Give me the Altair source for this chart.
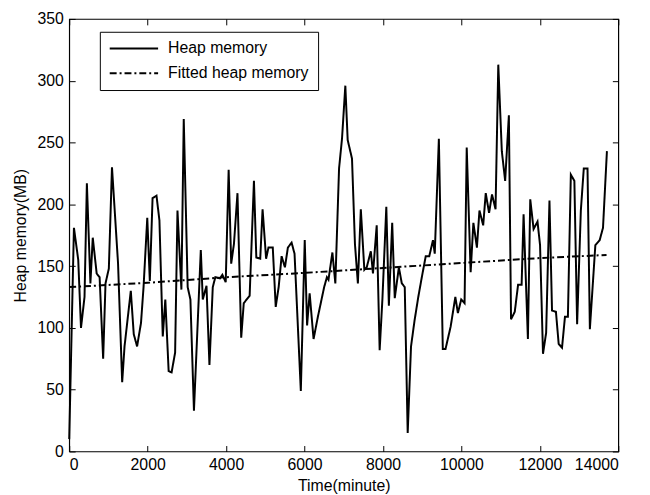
import altair as alt
import pandas as pd

# Heap memory series (time in minutes, memory in MB)
heap_time = [0, 120, 230, 300, 390, 450, 540, 600, 700, 775, 865, 925, 1010, 1090, 1245, 1350, 1410,
             1570, 1645, 1730, 1830, 1895, 1990, 2055, 2125, 2225, 2300, 2385, 2450, 2535, 2610, 2700,
             2760, 2860, 2920, 3020, 3090, 3180, 3355, 3405, 3500, 3575, 3660, 3725, 3845, 3905, 3990,
             4065, 4130, 4200, 4290, 4385, 4450, 4600, 4710, 4770, 4870, 4930, 5020, 5080, 5190, 5265,
             5340, 5415, 5500, 5575, 5670, 5745, 5905, 6005, 6065, 6130, 6230, 6340, 6500, 6570, 6610,
             6710, 6785, 6880, 6955, 7040, 7100, 7210, 7285, 7360, 7435, 7525, 7585, 7690, 7745, 7840,
             7915, 7985, 8085, 8150, 8235, 8300, 8405, 8480, 8555, 8630, 8715, 8805, 8900, 8990, 9090,
             9180, 9275, 9320, 9425, 9525, 9595, 9725, 9845, 9910, 9995, 10080, 10135, 10235, 10305,
             10395, 10460, 10555, 10620, 10705, 10780, 10870, 10940, 11030, 11115, 11210, 11265, 11360,
             11445, 11535, 11585, 11695, 11755, 11840, 11940, 12005, 12080, 12160, 12245, 12310, 12410,
             12480, 12565, 12640, 12715, 12790, 12880, 12950, 13045, 13120, 13215, 13275, 13415, 13525,
             13610, 13710]
heap_mb = [10, 181, 155, 100, 125, 217, 136, 173, 144, 141, 75, 136, 148, 230, 152, 56, 85,
           130, 95, 85, 104, 133, 189, 138, 205, 207, 187, 93, 123, 65, 64, 80,
           195, 131, 269, 133, 123, 33, 163, 123, 134, 70, 133, 141, 140, 143, 137,
           228, 152, 168, 209, 92, 120, 126, 219, 157, 156, 196, 156, 165, 165, 117,
           133, 158, 149, 165, 169, 160, 49, 171, 102, 128, 91, 109, 133, 141, 139,
           161, 136, 229, 253, 296, 252, 237, 168, 136, 196, 147, 149, 162, 144, 183,
           82, 123, 198, 118, 185, 124, 149, 136, 133, 15, 85, 106, 125, 141, 158,
           158, 171, 160, 253, 83, 83, 101, 125, 112, 123, 120, 246, 145, 185,
           165, 195, 183, 209, 193, 208, 196, 313, 243, 219, 272, 107, 113,
           135, 135, 192, 91, 204, 180, 186, 167, 79, 96, 203, 114, 113,
           87, 84, 109, 109, 224, 219, 103, 195, 229, 229, 99, 167, 171,
           181, 243]

# Fitted heap memory trend
fit_time = [0, 2000, 4000, 6000, 8000, 10000, 12000, 13700]
fit_mb = [133, 136.5, 141, 144.5, 148.5, 152.5, 156.5, 159]

series_names = ["Heap memory", "Fitted heap memory"]
x_ticks = [0, 2000, 4000, 6000, 8000, 10000, 12000, 14000]
y_ticks = [0, 50, 100, 150, 200, 250, 300, 350]

heap_df = pd.DataFrame({"t": heap_time, "v": heap_mb, "series": series_names[0]})
fit_df = pd.DataFrame({"t": fit_time, "v": fit_mb, "series": series_names[1]})

xscale = alt.Scale(domain=[0, 14000], nice=False, zero=False)
yscale = alt.Scale(domain=[0, 350], nice=False)
dash_scale = alt.Scale(domain=series_names, range=[[1, 0], [7, 3, 2, 3]])

legend = alt.Legend(
    title=None, orient="none", legendX=31, legendY=13,
    symbolType="stroke", symbolSize=2400, symbolStrokeWidth=2,
    symbolStrokeColor="black", labelOffset=9, labelFontSize=16,
    labelFont="Liberation Sans", labelColor="black", clipHeight=16,
    padding=9, rowPadding=9, strokeColor="black", fillColor="white",
    cornerRadius=0, labelLimit=400,
)

common_axis = dict(grid=False, domain=False, tickColor="black", tickSize=6, offset=-6,
                   labelFont="Liberation Sans", labelFontSize=16, labelColor="black",
                   titleFont="Liberation Sans", titleFontSize=16, titleFontWeight="normal",
                   titleColor="black")

x_bottom = alt.Axis(orient="bottom", values=x_ticks, format="d", title="Time(minute)",
                    labelPadding=5, titlePadding=6, **common_axis)
y_left = alt.Axis(orient="left", values=y_ticks, format="d", title="Heap memory(MB)",
                  labelPadding=6, titlePadding=9, **common_axis)
x_top = alt.Axis(orient="top", values=x_ticks, labels=False, title=None, **common_axis)
y_right = alt.Axis(orient="right", values=y_ticks, labels=False, title=None, **common_axis)

heap = alt.Chart(heap_df).mark_line(color="black", strokeWidth=2).encode(
    x=alt.X("t:Q", scale=xscale, axis=x_bottom),
    y=alt.Y("v:Q", scale=yscale, axis=y_left),
    strokeDash=alt.StrokeDash("series:N", scale=dash_scale, legend=legend),
)

fit = alt.Chart(fit_df).mark_line(color="black", strokeWidth=2).encode(
    x=alt.X("t:Q", scale=xscale, axis=x_top),
    y=alt.Y("v:Q", scale=yscale, axis=y_right),
    strokeDash=alt.StrokeDash("series:N", scale=dash_scale, legend=legend),
)

chart = alt.layer(heap, fit).resolve_axis(x="independent", y="independent").properties(
    width=556, height=438,
    autosize=alt.AutoSizeParams(type="none"),
    padding={"left": 62, "top": 8, "right": 24, "bottom": 41},
).configure(background="white").configure_view(stroke="black", strokeWidth=1.2)

chart.save("out.html", embed_options={"renderer": "svg", "actions": False})
